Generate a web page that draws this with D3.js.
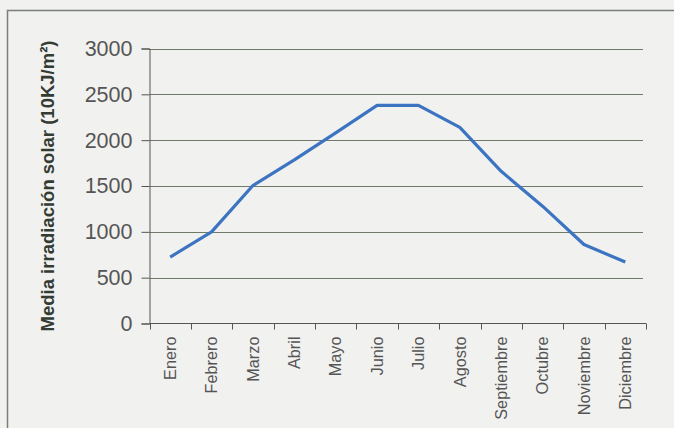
<!DOCTYPE html>
<html><head><meta charset="utf-8">
<script src="https://cdn.jsdelivr.net/npm/d3@7"></script>
<style>
html,body{margin:0;padding:0;background:#f1f1f0;}
svg{display:block;}
</style></head>
<body>
<svg id="c" width="674" height="428"></svg>
<script>
const months = ["Enero","Febrero","Marzo","Abril","Mayo","Junio","Julio","Agosto","Septiembre","Octubre","Noviembre","Diciembre"];
const irradiation = [725, 1000, 1505, 1785, 2080, 2380, 2380, 2140, 1660, 1280, 862, 670];
const yTicks = [0, 500, 1000, 1500, 2000, 2500, 3000];
const yTitle = "Media irradiación solar (10KJ/m²)";

const svg = d3.select("#c");
svg.append("rect").attr("x",0).attr("y",0).attr("width",674).attr("height",428).attr("fill","#f1f1f0");
// frame
svg.append("path").attr("d","M7.5,428 V10.5 H674").attr("fill","none").attr("stroke","#7a7f78").attr("stroke-width",1.5);

const x = d3.scaleBand().domain(months).range([149.5, 646]);
const y = d3.scaleLinear().domain([0,3000]).range([323.5, 48.5]);

// gridlines
svg.append("g").selectAll("line").data(yTicks.slice(1)).join("line")
  .attr("x1",149.5).attr("x2",643).attr("y1",d=>Math.round(y(d))+0.5).attr("y2",d=>Math.round(y(d))+0.5)
  .attr("stroke","#6f7a68").attr("stroke-width",1);

// y axis
const ya = svg.append("g").attr("transform","translate(149.5,0)")
  .call(d3.axisLeft(y).tickValues(yTicks).tickSize(8).tickPadding(9).tickFormat(d3.format("d")));
ya.select(".domain").attr("stroke","#555");
ya.selectAll(".tick line").attr("stroke","#555");
ya.selectAll("text").attr("font-family","Liberation Sans, Arial, sans-serif").attr("font-size",21.5).attr("fill","#555");

// x axis
const xa = svg.append("g").attr("transform","translate(0,323.5)")
  .call(d3.axisBottom(x).tickSize(0).tickPadding(0));
xa.select(".domain").attr("stroke","#555").attr("d","M149.5,0H646");
const bounds = months.map(m=>x(m)).concat([x.range()[1]]);
xa.selectAll(".bt").data(bounds).join("line").attr("class","bt")
  .attr("x1",d=>Math.round(d)+0.5).attr("x2",d=>Math.round(d)+0.5).attr("y1",0).attr("y2",6).attr("stroke","#555");
xa.selectAll(".tick text")
  .attr("font-family","Liberation Sans Narrow, Liberation Sans, Arial, sans-serif")
  .attr("font-size",16.3).attr("fill","#555")
  .attr("transform","rotate(-90)")
  .attr("text-anchor","end").attr("dy","0.35em").attr("x",-13).attr("y",0);

// line
const line = d3.line().x((d,i)=>x(months[i])+x.bandwidth()/2).y(d=>y(d));
svg.append("path").datum(irradiation).attr("d",line)
  .attr("fill","none").attr("stroke","#3c74c2").attr("stroke-width",3.2).attr("stroke-linejoin","round");

// y title
svg.append("text").attr("transform","translate(48,186) rotate(-90)")
  .attr("text-anchor","middle").attr("dy","0.35em")
  .attr("font-family","Liberation Sans, Arial, sans-serif").attr("font-weight","bold")
  .attr("font-size",18.5).attr("fill","#333b33").text(yTitle);
</script>
</body></html>
